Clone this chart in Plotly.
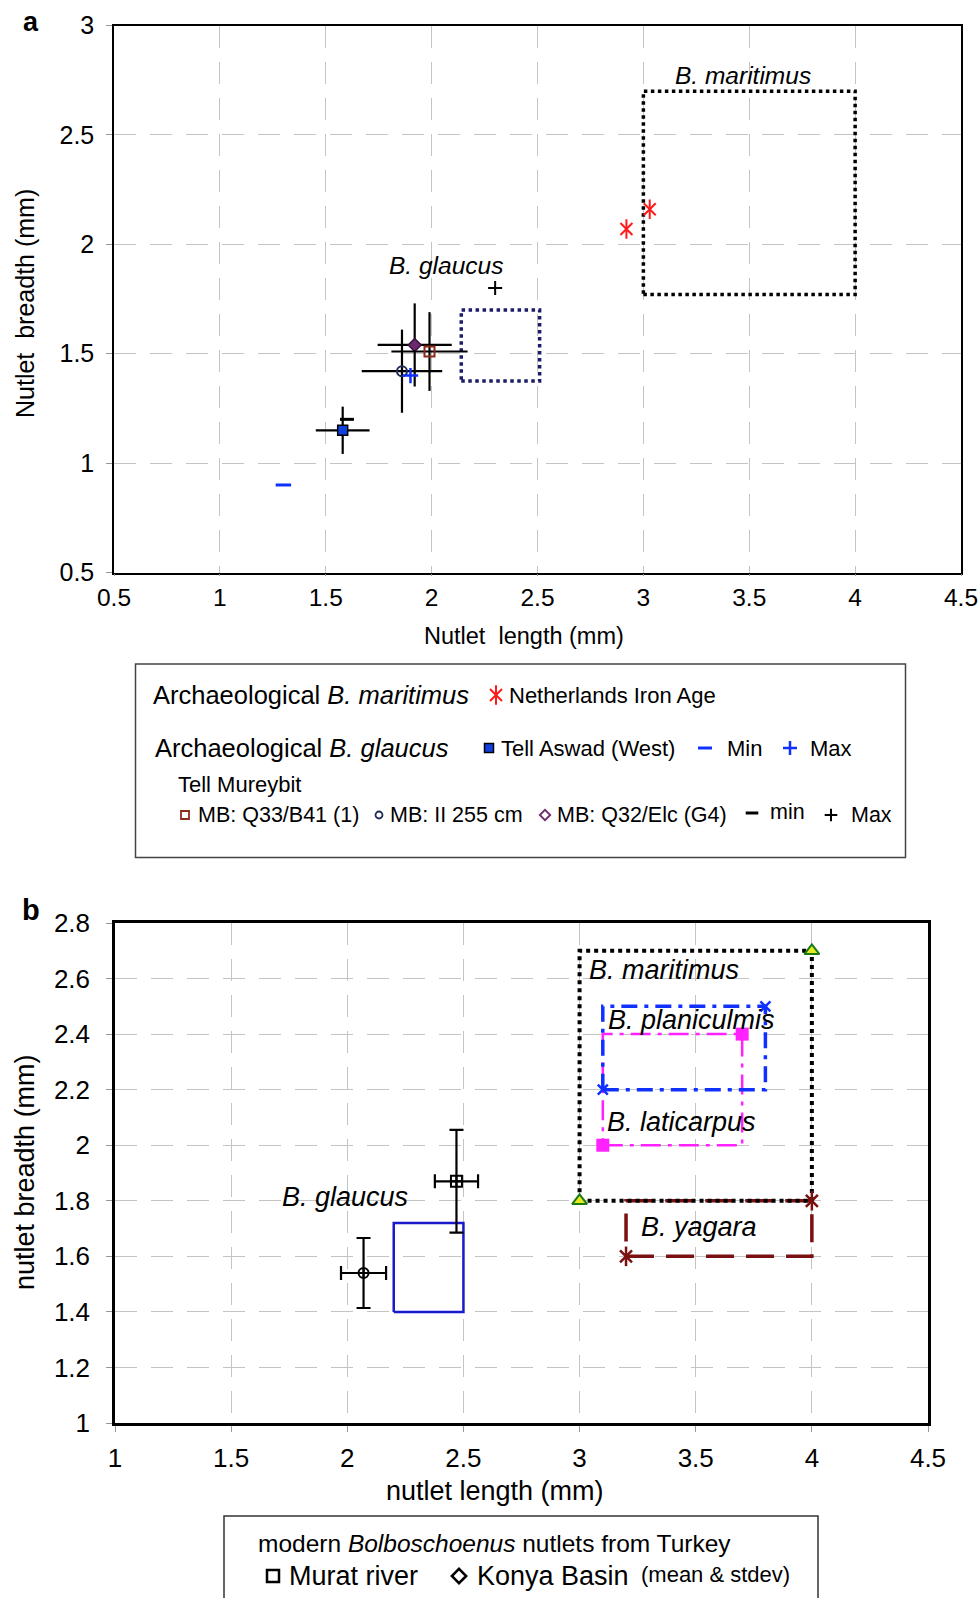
import plotly.graph_objects as go

PAGE_W, PAGE_H = 979, 1598
OFF = 0  # body margin removed via post_script
W, H = PAGE_W, PAGE_H
FONT = "Liberation Sans, Arial, sans-serif"

# ---------------- Panel a data ----------------
a_xticks = [0.5, 1, 1.5, 2, 2.5, 3, 3.5, 4, 4.5]
a_xticktext = ["0.5", "1", "1.5", "2", "2.5", "3", "3.5", "4", "4.5"]
a_yticks = [0.5, 1, 1.5, 2, 2.5, 3]
a_yticktext = ["0.5", "1", "1.5", "2", "2.5", "3"]

a_maritimus_len = [3.0, 4.0]
a_maritimus_br = [1.77, 2.70]
a_glaucus_len = [2.14, 2.51]
a_glaucus_br = [1.375, 1.70]

nl_len = [2.92, 3.03]
nl_br = [2.07, 2.16]

aswad_len = [1.58]
aswad_br = [1.15]
aswad_len_sd = [0.127]
aswad_br_sd = [0.108]
aswad_min_len = [1.30]
aswad_min_br = [0.90]
aswad_max_len = [1.90]
aswad_max_br = [1.40]

mb_q33_len = [1.99]
mb_q33_br = [1.51]
mb_q33_len_sd = [0.18]
mb_q33_br_sd = [0.18]

mb_ii_len = [1.86]
mb_ii_br = [1.42]
mb_ii_len_sd = [0.19]
mb_ii_br_sd = [0.19]

mb_q32_len = [1.92]
mb_q32_br = [1.54]
mb_q32_len_sd = [0.175]
mb_q32_br_sd = [0.19]

mureybit_min_len = [1.60]
mureybit_min_br = [1.20]
mureybit_max_len = [2.30]
mureybit_max_br = [1.80]

# ---------------- Panel b data ----------------
b_xticks = [1, 1.5, 2, 2.5, 3, 3.5, 4, 4.5]
b_xticktext = ["1", "1.5", "2", "2.5", "3", "3.5", "4", "4.5"]
b_yticks = [1, 1.2, 1.4, 1.6, 1.8, 2, 2.2, 2.4, 2.6, 2.8]
b_yticktext = ["1", "1.2", "1.4", "1.6", "1.8", "2", "2.2", "2.4", "2.6", "2.8"]

b_maritimus_len = [3.0, 4.0]
b_maritimus_br = [1.8, 2.7]
b_planiculmis_len = [3.1, 3.8]
b_planiculmis_br = [2.2, 2.5]
b_laticarpus_len = [3.1, 3.7]
b_laticarpus_br = [2.0, 2.4]
b_yagara_len = [3.2, 4.0]
b_yagara_br = [1.6, 1.8]
b_glaucus_len = [2.2, 2.5]
b_glaucus_br = [1.4, 1.72]

murat_len = [2.47]
murat_br = [1.87]
murat_len_sd = [0.093]
murat_br_sd = [0.185]

konya_len = [2.07]
konya_br = [1.54]
konya_len_sd = [0.097]
konya_br_sd = [0.126]


def px(x):
    return (x - OFF) / W


def py(y):
    return 1 - (y - OFF) / H


def rect(xr, yr):
    return ([xr[0], xr[1], xr[1], xr[0], xr[0]],
            [yr[0], yr[0], yr[1], yr[1], yr[0]])


fig = go.Figure()


def star(xs, ys, xa, ya, color, size, lw):
    # six-armed star: an "x" plus a vertical stroke
    fig.add_trace(go.Scatter(x=xs, y=ys, mode="markers", xaxis=xa, yaxis=ya,
                             marker=dict(symbol="x-thin-open", size=size, color=color,
                                         line=dict(width=lw, color=color))))
    fig.add_trace(go.Scatter(x=xs, y=ys, mode="markers", xaxis=xa, yaxis=ya,
                             marker=dict(symbol="line-ns-open", size=size + 2, color=color,
                                         line=dict(width=lw, color=color))))


# ---------- Panel a traces ----------
rx, ry = rect(a_maritimus_len, a_maritimus_br)
fig.add_trace(go.Scatter(x=rx, y=ry, mode="lines", xaxis="x", yaxis="y",
                         line=dict(color="black", width=3.5, dash="dot")))
rx, ry = rect(a_glaucus_len, a_glaucus_br)
fig.add_trace(go.Scatter(x=rx, y=ry, mode="lines", xaxis="x", yaxis="y",
                         line=dict(color="#1c1c6a", width=3.5, dash="dot")))

errkw = dict(type="data", color="black", thickness=2.2, width=0)
fig.add_trace(go.Scatter(x=mb_ii_len, y=mb_ii_br, mode="markers", xaxis="x", yaxis="y",
                         error_x=dict(array=mb_ii_len_sd, **errkw),
                         error_y=dict(array=mb_ii_br_sd, **errkw),
                         marker=dict(symbol="circle-open", size=10, color="#1f2a5a",
                                     line=dict(width=2, color="#1f2a5a"))))
fig.add_trace(go.Scatter(x=mb_q32_len, y=mb_q32_br, mode="markers", xaxis="x", yaxis="y",
                         error_x=dict(array=mb_q32_len_sd, **errkw),
                         error_y=dict(array=mb_q32_br_sd, **errkw),
                         marker=dict(symbol="diamond", size=10, color="#6b2a6b",
                                     line=dict(width=1.5, color="#3a1040"))))
fig.add_trace(go.Scatter(x=mb_q33_len, y=mb_q33_br, mode="markers", xaxis="x", yaxis="y",
                         error_x=dict(array=mb_q33_len_sd, **errkw),
                         error_y=dict(array=mb_q33_br_sd, **errkw),
                         marker=dict(symbol="square-open", size=10, color="#8b2a1a",
                                     line=dict(width=2, color="#8b2a1a"))))
fig.add_trace(go.Scatter(x=aswad_len, y=aswad_br, mode="markers", xaxis="x", yaxis="y",
                         error_x=dict(array=aswad_len_sd, **errkw),
                         error_y=dict(array=aswad_br_sd, **errkw),
                         marker=dict(symbol="square", size=10, color="#1040e0",
                                     line=dict(width=1.5, color="black"))))
fig.add_trace(go.Scatter(x=aswad_min_len, y=aswad_min_br, mode="markers", xaxis="x", yaxis="y",
                         marker=dict(symbol="line-ew-open", size=11, color="#1030ff",
                                     line=dict(width=3, color="#1030ff"))))
fig.add_trace(go.Scatter(x=aswad_max_len, y=aswad_max_br, mode="markers", xaxis="x", yaxis="y",
                         marker=dict(symbol="cross-thin-open", size=11, color="#1030ff",
                                     line=dict(width=2.5, color="#1030ff"))))
fig.add_trace(go.Scatter(x=mureybit_min_len, y=mureybit_min_br, mode="markers", xaxis="x", yaxis="y",
                         marker=dict(symbol="line-ew-open", size=10, color="black",
                                     line=dict(width=3, color="black"))))
fig.add_trace(go.Scatter(x=mureybit_max_len, y=mureybit_max_br, mode="markers", xaxis="x", yaxis="y",
                         marker=dict(symbol="cross-thin-open", size=10, color="black",
                                     line=dict(width=2, color="black"))))
star(nl_len, nl_br, "x", "y", "#ff1a1a", 12, 2)

# ---------- Panel b traces ----------
rx, ry = rect(b_glaucus_len, b_glaucus_br)
fig.add_trace(go.Scatter(x=rx, y=ry, mode="lines", xaxis="x2", yaxis="y2",
                         line=dict(color="#1a1acc", width=2.5)))
rx, ry = rect(b_yagara_len, b_yagara_br)
fig.add_trace(go.Scatter(x=rx, y=ry, mode="lines", xaxis="x2", yaxis="y2",
                         line=dict(color="#7a1010", width=3.5, dash="28px,12px")))
rx, ry = rect(b_laticarpus_len, b_laticarpus_br)
fig.add_trace(go.Scatter(x=rx, y=ry, mode="lines", xaxis="x2", yaxis="y2",
                         line=dict(color="#ff22ff", width=2.5, dash="20px,7px,4px,7px")))
rx, ry = rect(b_planiculmis_len, b_planiculmis_br)
fig.add_trace(go.Scatter(x=rx, y=ry, mode="lines", xaxis="x2", yaxis="y2",
                         line=dict(color="#1030ff", width=3.5, dash="16px,7px,4px,7px")))
rx, ry = rect(b_maritimus_len, b_maritimus_br)
fig.add_trace(go.Scatter(x=rx, y=ry, mode="lines", xaxis="x2", yaxis="y2",
                         line=dict(color="black", width=4, dash="dot")))

fig.add_trace(go.Scatter(x=b_maritimus_len, y=b_maritimus_br, mode="markers", xaxis="x2", yaxis="y2",
                         marker=dict(symbol="triangle-up", size=13, color="#e8e820",
                                     line=dict(width=2, color="#1a7a1a"))))
fig.add_trace(go.Scatter(x=b_planiculmis_len, y=b_planiculmis_br, mode="markers",
                         xaxis="x2", yaxis="y2",
                         marker=dict(symbol="x-thin-open", size=10, color="#1030ff",
                                     line=dict(width=2.5, color="#1030ff"))))
fig.add_trace(go.Scatter(x=b_laticarpus_len, y=b_laticarpus_br, mode="markers", xaxis="x2", yaxis="y2",
                         marker=dict(symbol="square", size=13, color="#ff22ff")))
star(b_yagara_len, b_yagara_br, "x2", "y2", "#7a1010", 12, 2.5)

errb = dict(type="data", color="black", thickness=2.2, width=7)
fig.add_trace(go.Scatter(x=murat_len, y=murat_br, mode="markers", xaxis="x2", yaxis="y2",
                         error_x=dict(array=murat_len_sd, **errb),
                         error_y=dict(array=murat_br_sd, **errb),
                         marker=dict(symbol="square-cross-open", size=11, color="black",
                                     line=dict(width=2, color="black"))))
fig.add_trace(go.Scatter(x=konya_len, y=konya_br, mode="markers", xaxis="x2", yaxis="y2",
                         error_x=dict(array=konya_len_sd, **errb),
                         error_y=dict(array=konya_br_sd, **errb),
                         marker=dict(symbol="circle-cross-open", size=10, color="black",
                                     line=dict(width=2, color="black"))))


# ---------- legend key symbols (overlay pixel axis, page pixels) ----------
def key(kx, ky, symbol, size, color, lw=2, lcolor=None):
    fig.add_trace(go.Scatter(x=[kx], y=[ky], mode="markers", xaxis="x3", yaxis="y3",
                             marker=dict(symbol=symbol, size=size, color=color,
                                         line=dict(width=lw, color=lcolor or color))))


key(496, 695, "x-thin-open", 12, "#ff1a1a", 2)
key(496, 695, "line-ns-open", 14, "#ff1a1a", 2)
key(489, 748, "square", 9, "#1040e0", 1.5, "black")
key(705, 748, "line-ew-open", 10, "#1030ff", 3)
key(790, 748, "cross-thin-open", 10, "#1030ff", 2.5)
key(185, 815, "square-open", 8, "#8b2a1a", 1.8)
key(379, 815, "circle-open", 7, "#1f2a5a", 1.8)
key(545, 815, "diamond-open", 8, "#6b2a6b", 1.8)
key(752, 813, "line-ew-open", 9, "black", 3)
key(831, 815, "cross-thin-open", 9, "black", 2)
key(273, 1576, "square-open", 12, "black", 2.5)
key(459, 1576, "diamond-open", 11, "black", 2.5)

fig.update_traces(showlegend=False, hoverinfo="skip")


def ann(x, y, text, size, xanchor="left", color="black", angle=0):
    return dict(xref="paper", yref="paper", x=px(x), y=py(y), text=text,
                showarrow=False, xanchor=xanchor, yanchor="middle", textangle=angle,
                font=dict(family=FONT, size=size, color=color), borderpad=0)


def dann(x, y, text, size, xref, yref, xanchor="center"):
    return dict(xref=xref, yref=yref, x=x, y=y, text=text, showarrow=False,
                xanchor=xanchor, yanchor="middle", font=dict(family=FONT, size=size, color="black"))


annotations = [
    # panel labels
    ann(31, 22, "<b>a</b>", 27, "center"),
    ann(31, 910, "<b>b</b>", 29, "center"),
    # axis titles
    ann(524, 636, "Nutlet  length (mm)", 23.5, "center"),
    ann(25, 304, "Nutlet  breadth (mm)", 25, "center", angle=-90),
    ann(495, 1491, "nutlet length (mm)", 27, "center"),
    ann(25, 1172, "nutlet breadth (mm)", 27, "center", angle=-90),
    # in-plot labels panel a
    dann(3.47, 2.77, "<i>B. maritimus</i>", 24.5, "x", "y"),
    dann(2.07, 1.905, "<i>B. glaucus</i>", 24.5, "x", "y"),
    # in-plot labels panel b
    dann(3.03, 2.63, "<i>B. maritimus</i>", 27, "x2", "y2", "left"),
    dann(3.115, 2.45, "<i>B. planiculmis</i>", 27, "x2", "y2", "left"),
    dann(3.11, 2.085, "<i>B. laticarpus</i>", 27, "x2", "y2", "left"),
    dann(3.255, 1.707, "<i>B. yagara</i>", 27, "x2", "y2", "left"),
    dann(1.99, 1.813, "<i>B. glaucus</i>", 27, "x2", "y2"),
    # legend a
    ann(152, 695, "Archaeological <i>B. maritimus</i>", 25.5),
    ann(508, 695, "Netherlands Iron Age", 22),
    ann(154, 748, "Archaeological <i>B. glaucus</i>", 25.5),
    ann(500, 748, "Tell Aswad (West)", 22),
    ann(726, 748, "Min", 22),
    ann(809, 748, "Max", 22),
    ann(177, 784, "Tell Mureybit", 22),
    ann(197, 815, "MB: Q33/B41 (1)", 21.5),
    ann(389, 815, "MB: II 255 cm", 21.5),
    ann(556, 815, "MB: Q32/Elc (G4)", 21.5),
    ann(769, 812, "min", 21.5),
    ann(850, 815, "Max", 21.5),
    # legend b
    ann(257, 1543, "modern <i>Bolboschoenus</i> nutlets from Turkey", 24.5),
    ann(288, 1576, "Murat river", 27),
    ann(476, 1576, "Konya Basin", 27),
    ann(640, 1574, "(mean &amp; stdev)", 22),
]

shapes = [
    dict(type="rect", xref="paper", yref="paper", x0=px(135.5), x1=px(905.5),
         y0=py(857.5), y1=py(664), line=dict(color="#444444", width=1.5)),
    dict(type="rect", xref="paper", yref="paper", x0=px(224), x1=px(818),
         y0=py(1640), y1=py(1516), line=dict(color="#333333", width=1.5)),
]

common = dict(showgrid=True, gridcolor="#c4c4c4", gridwidth=1.3, griddash="22px,14px",
              zeroline=False, showline=True, mirror=True, linecolor="black",
              ticks="outside", tickcolor="#999999", automargin=False, fixedrange=True)

fig.update_layout(
    width=W, height=H, margin=dict(l=0, r=0, t=0, b=0, autoexpand=False),
    paper_bgcolor="white", plot_bgcolor="rgba(0,0,0,0)",
    showlegend=False,
    xaxis=dict(domain=[px(114), px(961)], range=[0.5, 4.5], anchor="y",
               tickvals=a_xticks, ticktext=a_xticktext, linewidth=1.5, ticklen=2,
               tickfont=dict(family=FONT, size=24.5, color="black"), **common),
    yaxis=dict(domain=[py(572.5), py(25.5)], range=[0.5, 3], anchor="x",
               tickvals=a_yticks, ticktext=a_yticktext, linewidth=1.5, ticklen=6,
               ticklabelstandoff=7,
               tickfont=dict(family=FONT, size=25, color="black"), **common),
    xaxis2=dict(domain=[px(115), px(928)], range=[1, 4.5], anchor="y2",
                tickvals=b_xticks, ticktext=b_xticktext, linewidth=2.5, ticklen=6,
                ticklabelstandoff=4,
                tickfont=dict(family=FONT, size=26, color="black"), **common),
    yaxis2=dict(domain=[py(1423), py(923)], range=[1, 2.8], anchor="x2",
                tickvals=b_yticks, ticktext=b_yticktext, linewidth=2.5, ticklen=6,
                ticklabelstandoff=11,
                tickfont=dict(family=FONT, size=26, color="black"), **common),
    xaxis3=dict(domain=[0, 1], range=[OFF, OFF + W], anchor="y3", visible=False,
                fixedrange=True, automargin=False),
    yaxis3=dict(domain=[0, 1], range=[OFF + H, OFF], anchor="x3", visible=False,
                fixedrange=True, automargin=False),
    annotations=annotations,
    shapes=shapes,
)

fig.write_html(
    "out.html",
    config={"displayModeBar": False},
    post_script=("document.body.style.margin='0px';"
                 "document.body.style.overflow='hidden';"
                 "document.documentElement.style.overflow='hidden';"),
)
